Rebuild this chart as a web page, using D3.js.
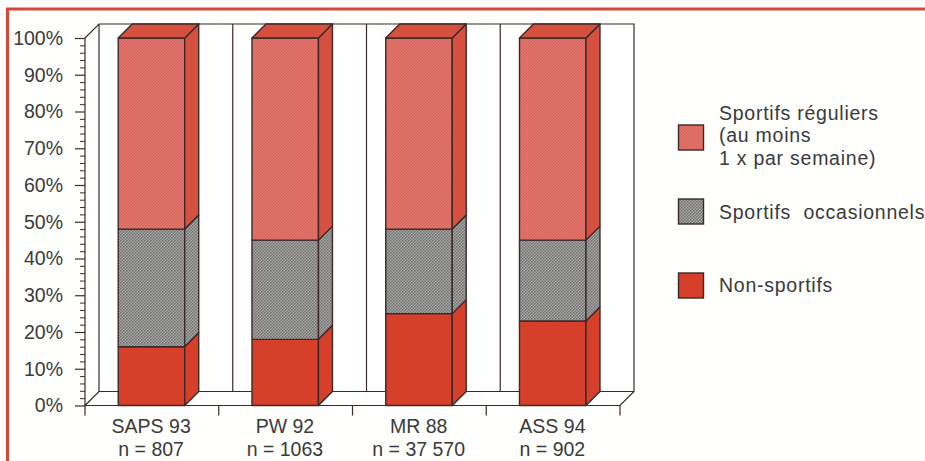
<!DOCTYPE html>
<meta charset="utf-8">
<style>
html, body { margin: 0; padding: 0; background: #fefefc; overflow: hidden; }
text { font-family: 'Liberation Sans', Arial, sans-serif; fill: #3a3a3a; }
.domain { display: none; }
</style>
<body>
<script src="https://d3js.org/d3.v7.min.js"></script>
<script>
const studies = ["SAPS 93", "PW 92", "MR 88", "ASS 94"];
const sampleSizes = ["n = 807", "n = 1063", "n = 37 570", "n = 902"];
const nonSportifs = [16, 18, 25, 23];
const occasionnels = [32, 27, 23, 22];
const reguliers = [52, 55, 52, 55];
const yTicks = [0, 10, 20, 30, 40, 50, 60, 70, 80, 90, 100];
const yMinorTicks = [2, 4, 6, 8, 12, 14, 16, 18, 22, 24, 26, 28, 32, 34, 36, 38, 42, 44, 46, 48,
  52, 54, 56, 58, 62, 64, 66, 68, 72, 74, 76, 78, 82, 84, 86, 88, 92, 94, 96, 98];
const legendItems = [
  { key: "reg", lines: ["Sportifs réguliers", "(au moins", "1 x par semaine)"] },
  { key: "occ", lines: ["Sportifs  occasionnels"] },
  { key: "non", lines: ["Non-sportifs"] }
];

const width = 925, height = 461;
const depth = 14;
const ink = "#3b2a28", frameRed = "#d2493a";
const fontSize = 19.5;

const svg = d3.select("body").append("svg")
  .attr("width", width).attr("height", height)
  .style("display", "block");

// print screens of the original
const defs = svg.append("defs");
const pinkPat = defs.append("pattern").attr("id", "pink")
  .attr("width", 3).attr("height", 3).attr("patternUnits", "userSpaceOnUse");
pinkPat.append("rect").attr("width", 3).attr("height", 3).attr("fill", "#e0736a");
pinkPat.append("path").attr("d", "M0,3L3,0").attr("stroke", "#d65f56").attr("stroke-width", 0.8);
const grayPat = defs.append("pattern").attr("id", "gray")
  .attr("width", 3).attr("height", 3).attr("patternUnits", "userSpaceOnUse");
grayPat.append("rect").attr("width", 3).attr("height", 3).attr("fill", "#a8a8a6");
grayPat.append("rect").attr("width", 1.5).attr("height", 1.5).attr("fill", "#6f6f6f");
grayPat.append("rect").attr("x", 1.5).attr("y", 1.5).attr("width", 1.5).attr("height", 1.5).attr("fill", "#777");

const front = { reg: "url(#pink)", occ: "url(#gray)", non: "#d63f29" };
const side = { reg: "#d6503f", occ: "url(#gray)", non: "#d63f29" };

const y = d3.scaleLinear().domain([0, 100]).range([405.5, 38]);
const x = d3.scaleBand().domain(studies).range([85, 620]);
const barW = x.bandwidth() * 0.497;
const barX = s => x(s) + (x.bandwidth() - barW) / 2 - 0.4;

// frame
svg.append("path")
  .attr("d", `M7.5,${height}V9H${width}`)
  .attr("fill", "none").attr("stroke", frameRed).attr("stroke-width", 3);

// back walls
const x0 = x.range()[0], x1 = x.range()[1], yB = y(0), yT = y(100);
const boundaries = studies.map(s => x(s)).concat([x1]);
const walls = svg.append("g").attr("fill", "none").attr("stroke", ink).attr("stroke-width", 1.2);
walls.append("path").attr("fill", "#fff")
  .attr("d", `M${x0},${yB}V${yT}L${x0 + depth},${yT - depth}H${x1 + depth}V${yB - depth}L${x1},${yB}Z`);
walls.selectAll("line.back").data(boundaries.slice(0, 4)).join("line")
  .attr("class", "back")
  .attr("x1", d => d + depth).attr("x2", d => d + depth)
  .attr("y1", yT - depth).attr("y2", yB - depth);
walls.append("path")
  .attr("d", `M${x0},${yB}L${x0 + depth},${yB - depth}H${x1 + depth}`);
walls.append("path").attr("d", `M${x0},${yB}H${x1}`);

// stacked bars
const stack = d3.stack().keys(["non", "occ", "reg"])(studies.map((s, i) => ({
  study: s, non: nonSportifs[i], occ: occasionnels[i], reg: reguliers[i]
})));

const layers = svg.append("g").selectAll("g").data(stack).join("g")
  .attr("stroke", ink).attr("stroke-width", 1.4).attr("stroke-linejoin", "round");

layers.selectAll("rect").data(d => d.map(v => ({ v, key: d.key }))).join("rect")
  .attr("x", d => barX(d.v.data.study))
  .attr("width", barW)
  .attr("y", d => y(d.v[1]))
  .attr("height", d => y(d.v[0]) - y(d.v[1]))
  .attr("fill", d => front[d.key]);

layers.selectAll("path.side").data(d => d.map(v => ({ v, key: d.key }))).join("path")
  .attr("class", "side")
  .attr("fill", d => side[d.key])
  .attr("d", d => {
    const r = barX(d.v.data.study) + barW;
    return `M${r},${y(d.v[0])}V${y(d.v[1])}L${r + depth},${y(d.v[1]) - depth}V${y(d.v[0]) - depth}Z`;
  });

// lid on top of each bar
svg.append("g").selectAll("path").data(studies).join("path")
  .attr("fill", "#d6503f").attr("stroke", ink).attr("stroke-width", 1.4)
  .attr("stroke-linejoin", "round")
  .attr("d", s => {
    const l = barX(s), r = l + barW;
    return `M${l},${yT}L${l + depth},${yT - depth}H${r + depth}L${r},${yT}Z`;
  });

// y axis
const yMinor = svg.append("g").attr("transform", `translate(${x0},0)`)
  .call(d3.axisLeft(y).tickValues(yMinorTicks).tickSize(5).tickFormat(""));
yMinor.selectAll("line").attr("stroke", ink);

const yAxis = svg.append("g").attr("transform", `translate(${x0},0)`)
  .call(d3.axisLeft(y).tickValues(yTicks).tickSize(10).tickPadding(12).tickFormat(d => d + "%"));
yAxis.selectAll("line").attr("stroke", ink).attr("stroke-width", 1.2);
yAxis.selectAll("text").attr("font-size", fontSize).attr("font-family", "'Liberation Sans', Arial, sans-serif");

// x axis ticks sit between the bars
svg.append("g").selectAll("line").data(boundaries).join("line")
  .attr("x1", d => d).attr("x2", d => d)
  .attr("y1", yB).attr("y2", yB + 10)
  .attr("stroke", ink).attr("stroke-width", 1.2);

const xLabels = svg.append("g").selectAll("text").data(studies).join("text")
  .attr("text-anchor", "middle")
  .attr("font-size", fontSize);
xLabels.append("tspan")
  .attr("x", s => x(s) + x.bandwidth() / 2 - 0.7).attr("y", 433)
  .text(s => s);
xLabels.append("tspan")
  .attr("x", s => x(s) + x.bandwidth() / 2 - 0.7).attr("y", 456)
  .text((s, i) => sampleSizes[i]);

// legend
const legendSwatchY = [125, 199, 273];
const legendTextY = [119.5, 219, 292];
const legend = svg.append("g").selectAll("g").data(legendItems).join("g");
legend.append("rect")
  .attr("x", 678.5).attr("y", (d, i) => legendSwatchY[i])
  .attr("width", 25).attr("height", 25)
  .attr("fill", d => front[d.key])
  .attr("stroke", ink).attr("stroke-width", 1.4);
legend.append("text")
  .attr("font-size", fontSize)
  .attr("letter-spacing", 0.75)
  .style("white-space", "pre")
  .each(function(d, i) {
    d3.select(this).selectAll("tspan").data(d.lines).join("tspan")
      .attr("x", 719)
      .attr("y", (l, j) => legendTextY[i] + j * 22.5)
      .text(l => l);
  });
</script>
</body>
